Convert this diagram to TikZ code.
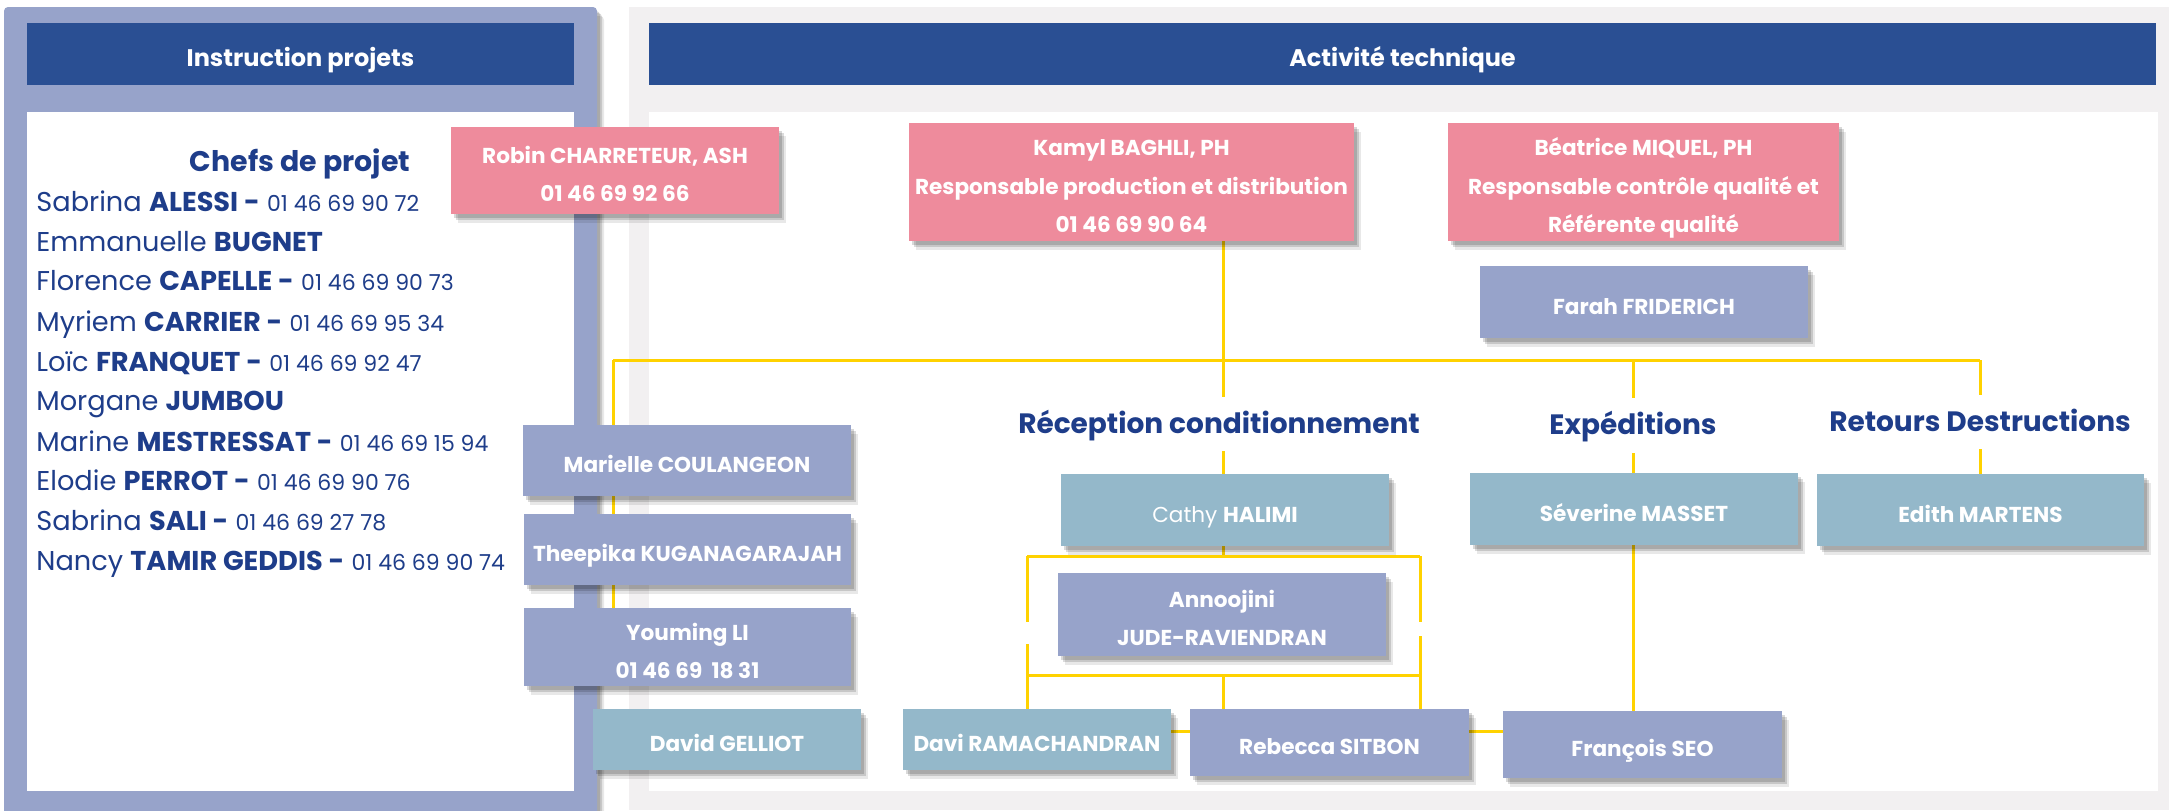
\documentclass[tikz,border=0pt]{standalone}
\usepackage{fontspec}
\setmainfont{Poppins}
\usetikzlibrary{shadows}
\definecolor{hdrblue}{HTML}{2A4F93}
\definecolor{peri}{HTML}{97A3CA}
\definecolor{pinkc}{HTML}{EE8B9C}
\definecolor{tealc}{HTML}{94B8CA}
\definecolor{panelgray}{HTML}{F2F0F1}
\definecolor{ylw}{HTML}{FFD200}
\definecolor{txtblue}{HTML}{1E3D8A}
\newcommand\phonetxt[1]{{\mdseries\fontsize{11}{12}\selectfont #1}}
\newcommand\ct[1]{\raisebox{-2.3pt}[\height][\depth]{\begin{tabular}{@{}c@{}}#1\end{tabular}}}
\pgfdeclarelayer{bg}
\pgfdeclarelayer{lines}
\pgfsetlayers{bg,lines,main}
\begin{document}
\begin{tikzpicture}[x=0.5pt,y=-0.5pt,
  sz/.style 2 args={minimum width=#1*0.5pt, minimum height=#2*0.5pt},
  softshadow/.style={
    drop shadow={shadow xshift=1.5pt, shadow yshift=-2pt, opacity=0.15, fill=black},
    drop shadow={shadow xshift=2.5pt, shadow yshift=-3pt, opacity=0.14, fill=black},
    drop shadow={shadow xshift=3.5pt, shadow yshift=-4.5pt, opacity=0.09, fill=black}},
  card/.style={rectangle, inner sep=0pt, text=white,
    font=\bfseries\fontsize{10.8}{19.2}\selectfont, softshadow},
  pinkcard/.style={card, fill=pinkc},
  pericard/.style={card, fill=peri},
  tealcard/.style={card, fill=tealc},
  hdr/.style={rectangle, fill=hdrblue, inner sep=0pt},
  hdrtxt/.style={text=white, font=\bfseries\fontsize{12}{13}\selectfont, inner sep=0pt},
  listtxt/.style={text=txtblue, font=\fontsize{13.6}{15}\selectfont, inner sep=0pt, anchor=base west},
  headtxt/.style={text=txtblue, font=\bfseries\fontsize{14}{15}\selectfont, inner sep=0pt, anchor=base},
  link/.style={draw=ylw, line width=1.5pt}]
\useasboundingbox (0,0) rectangle (2169,810);
% ---------- panels ----------
\begin{pgfonlayer}{bg}
\fill[white] (0,0) rectangle (2169,810);
\fill[panelgray] (629,7) rectangle (2169,810);
\fill[white] (649,112) rectangle (2158,791);
\fill[peri, rounded corners=2pt, softshadow] (4,7) rectangle (597,830);
\fill[white] (27,112) rectangle (574,791);
\end{pgfonlayer}
\node[hdr, sz={547}{62}] (hdrL) at (300.5,54) {};
\node[hdrtxt, anchor=base] (hdrLt) at (300.5,66) {Instruction projets};
\node[hdr, sz={1507}{62}] (hdrR) at (1402.5,54) {};
\node[hdrtxt, anchor=base] (hdrRt) at (1402.5,66) {Activité technique};
% ---------- list ----------
\node[headtxt, font=\bfseries\fontsize{14.2}{15}\selectfont] (chefs) at (300,171) {Chefs de projet};
\node[listtxt] (p1) at (36,211) {Sabrina \textbf{ALESSI -} \phonetxt{01 46 69 90 72}};
\node[listtxt] (p2) at (36,251) {Emmanuelle \textbf{BUGNET}};
\node[listtxt] (p3) at (36,290) {Florence \textbf{CAPELLE -} \phonetxt{01 46 69 90 73}};
\node[listtxt] (p4) at (36,331) {Myriem \textbf{CARRIER -} \phonetxt{01 46 69 95 34}};
\node[listtxt] (p5) at (36,371) {Loïc \textbf{FRANQUET -} \phonetxt{01 46 69 92 47}};
\node[listtxt] (p6) at (36,410) {Morgane \textbf{JUMBOU}};
\node[listtxt] (p7) at (36,451) {Marine \textbf{MESTRESSAT -} \phonetxt{01 46 69 15 94}};
\node[listtxt] (p8) at (36,490) {Elodie \textbf{PERROT -} \phonetxt{01 46 69 90 76}};
\node[listtxt] (p9) at (36,530) {Sabrina \textbf{SALI -} \phonetxt{01 46 69 27 78}};
\node[listtxt] (p10) at (36,570) {Nancy \textbf{TAMIR GEDDIS -} \phonetxt{01 46 69 90 74}};
% ---------- cards ----------
\node[pinkcard, sz={328}{87}] (robin) at (615,170.5) {\ct{Robin CHARRETEUR, ASH\\01 46 69 92 66}};
\node[pinkcard, sz={445}{118}] (kamyl) at (1131.5,182) {\ct{Kamyl BAGHLI, PH\\Responsable production et distribution\\01 46 69 90 64}};
\node[pinkcard, sz={391}{118}] (beatrice) at (1643.5,182) {\ct{Béatrice MIQUEL, PH\\Responsable contrôle qualité et\\Référente qualité}};
\node[pericard, sz={328}{72}] (farah) at (1644,302) {\ct{Farah FRIDERICH}};
\node[pericard, sz={328}{71}] (marielle) at (687,460.5) {\ct{Marielle COULANGEON}};
\node[pericard, sz={327}{71}] (theepika) at (687.5,549.5) {\ct{Theepika KUGANAGARAJAH}};
\node[pericard, sz={327}{78}] (youming) at (687.5,647) {\ct{Youming LI\\01 46 69 \ 18 31}};
\node[tealcard, sz={268}{61}] (david) at (727,739.5) {\ct{David GELLIOT}};
\node[headtxt] (hrec) at (1219,433) {Réception conditionnement};
\node[headtxt] (hexp) at (1633,434) {Expéditions};
\node[headtxt] (hret) at (1980,431) {Retours Destructions};
\node[tealcard, sz={328}{72}] (cathy) at (1225,510) {\ct{\mdseries Cathy \bfseries HALIMI}};
\node[tealcard, sz={328}{72}] (severine) at (1634,509) {\ct{Séverine MASSET}};
\node[tealcard, sz={327}{72}] (edith) at (1980.5,510) {\ct{Edith MARTENS}};
\node[pericard, sz={328}{83}] (annoojini) at (1222,614.5) {\ct{Annoojini\\JUDE-RAVIENDRAN}};
\node[tealcard, sz={268}{61}] (davi) at (1037,739.5) {\ct{Davi RAMACHANDRAN}};
\node[pericard, sz={279}{67}] (rebecca) at (1329.5,742.5) {\ct{Rebecca SITBON}};
\node[pericard, sz={279}{67}] (francois) at (1642.5,744.5) {\ct{François SEO}};
% ---------- connectors ----------
\coordinate (busL) at (613,360);
\coordinate (busR) at (1980,360);
\coordinate (recTop) at (1223,397);
\coordinate (expTop) at (1633,398);
\coordinate (retTop) at (1980,395);
\coordinate (recBot) at (1223,451);
\coordinate (expBot) at (1633,453);
\coordinate (retBot) at (1980,449);
\coordinate (c1) at (1027,556);
\coordinate (c2) at (1420,556);
\coordinate (c3) at (1027,675);
\coordinate (c4) at (1420,675);
\coordinate (g1a) at (1027,622);
\coordinate (g1b) at (1027,644);
\coordinate (g2a) at (1420,622);
\coordinate (g2b) at (1420,636);
\coordinate (hl) at (1180,731);
\begin{pgfonlayer}{lines}
\draw[link] (kamyl.south -| recTop) -- (recTop);
\draw[link] (busL) -- (busR);
\draw[link] (busL) -- (youming.north -| busL);
\draw[link] (busR) -- (retTop);
\draw[link] (expTop |- busL) -- (expTop);
\draw[link] (recBot) -- (cathy.north -| recBot);
\draw[link] (expBot) -- (severine.north -| expBot);
\draw[link] (retBot) -- (edith.north -| retBot);
\draw[link] (cathy.south -| recTop) -- (c1 -| recTop);
\draw[link] (c1) -- (c2);
\draw[link] (c1) -- (g1a);
\draw[link] (g1b) -- (c3);
\draw[link] (c2) -- (g2a);
\draw[link] (g2b) -- (c4);
\draw[link] (c3) -- (c4);
\draw[link] (c3) -- (davi.north -| c3);
\draw[link] (c3 -| recTop) -- (rebecca.north -| recTop);
\draw[link] (c4) -- (rebecca.north -| c4);
\draw[link] (davi.east |- hl) -- (francois.west |- hl);
\draw[link] (severine.south -| expTop) -- (francois.north -| expTop);
\end{pgfonlayer}
\end{tikzpicture}
\end{document}
